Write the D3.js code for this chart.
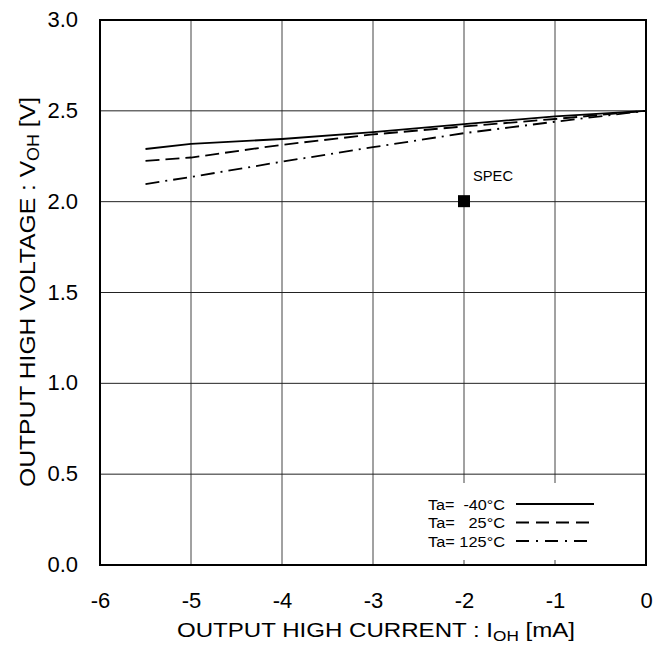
<!DOCTYPE html>
<html><head><meta charset="utf-8">
<script src="https://cdn.jsdelivr.net/npm/d3@7"></script>
<style>body{margin:0;background:#fff}</style>
</head><body>
<svg id="c" width="671" height="646"></svg>
<script>
const currents = [-5.5, -5, -4, -3, -2, -1, 0];
const vM40 = [2.29, 2.318, 2.345, 2.383, 2.427, 2.47, 2.50];
const v25 = [2.225, 2.243, 2.313, 2.370, 2.414, 2.455, 2.50];
const v125 = [2.097, 2.136, 2.22, 2.30, 2.377, 2.44, 2.50];
const seriesLabels = ["Ta=  -40°C", "Ta=   25°C", "Ta= 125°C"];
const specPoint = {x: -2, y: 2.0, label: "SPEC"};
const xTicks = [-6, -5, -4, -3, -2, -1, 0];
const yTicks = [0, 0.5, 1.0, 1.5, 2.0, 2.5, 3.0];

const svg = d3.select("#c");
const font = "Liberation Sans, Arial, sans-serif";
const L = 100, R = 646, T = 20, B = 565;
const x = d3.scaleLinear().domain([-6, 0]).range([L, R]);
const y = d3.scaleLinear().domain([0, 3]).range([B, T]);

// grid
svg.append("g").selectAll("line").data(xTicks).join("line")
  .attr("x1", d => x(d)).attr("x2", d => x(d)).attr("y1", T).attr("y2", B)
  .attr("stroke", "#444").attr("stroke-width", 1);
svg.append("g").selectAll("line").data(yTicks).join("line")
  .attr("y1", d => y(d)).attr("y2", d => y(d)).attr("x1", L).attr("x2", R)
  .attr("stroke", "#222").attr("stroke-width", 1);

// legend background
svg.append("rect").attr("x", 420).attr("y", 483).attr("width", R - 420).attr("height", 77).attr("fill", "#fff");

// frame
svg.append("rect").attr("x", L).attr("y", T).attr("width", R - L).attr("height", B - T)
  .attr("fill", "none").attr("stroke", "#000").attr("stroke-width", 2);

// axes labels via d3 axes
const xAxis = d3.axisBottom(x).tickValues(xTicks).tickFormat(d => String(d)).tickSize(0).tickPadding(27);
const gx = svg.append("g").attr("transform", `translate(0,${B})`).call(xAxis);
gx.select(".domain").remove();
gx.selectAll("text").attr("font-family", font).attr("font-size", 22).attr("fill", "#000");

const yAxis = d3.axisLeft(y).tickValues(yTicks).tickFormat(d => d.toFixed(1)).tickSize(0).tickPadding(22);
const gy = svg.append("g").attr("transform", `translate(${L},0)`).call(yAxis);
gy.select(".domain").remove();
gy.selectAll("text").attr("font-family", font).attr("font-size", 22).attr("fill", "#000").attr("dy", "0.3em");

// series
const styles = [null, "14,6", "14,6,2,6"];
const series = [vM40, v25, v125];
const line = d3.line().x(d => x(d[0])).y(d => y(d[1]));
series.forEach((vals, i) => {
  svg.append("path").datum(currents.map((c, j) => [c, vals[j]]))
    .attr("d", line).attr("fill", "none").attr("stroke", "#000").attr("stroke-width", 1.8)
    .attr("stroke-dasharray", styles[i]);
});

// spec
svg.append("rect").attr("x", x(specPoint.x) - 6).attr("y", y(specPoint.y) - 6.5)
  .attr("width", 12).attr("height", 12).attr("fill", "#000");
svg.append("text").attr("x", x(specPoint.x) + 9).attr("y", y(specPoint.y) - 21)
  .attr("font-family", font).attr("font-size", 15).attr("textLength", 40).attr("lengthAdjust", "spacingAndGlyphs")
  .text(specPoint.label);

// legend
const legStyles = [null, "13,7", "13,7,2,7"];
seriesLabels.forEach((lab, i) => {
  const yy = 504 + i * 18.5;
  svg.append("text").attr("x", 428).attr("y", yy + 5.5).attr("font-family", font)
    .attr("font-size", 15.5).attr("textLength", 77).attr("lengthAdjust", "spacingAndGlyphs")
    .attr("xml:space", "preserve").style("white-space", "pre").text(lab);
  svg.append("line").attr("x1", 516).attr("x2", 594).attr("y1", yy).attr("y2", yy)
    .attr("stroke", "#000").attr("stroke-width", 1.8).attr("stroke-dasharray", legStyles[i]);
});

// axis titles
const xt = svg.append("text").attr("x", 177).attr("y", 637)
  .attr("font-family", font).attr("font-size", 21);
xt.append("tspan").text("OUTPUT HIGH CURRENT : I");
xt.append("tspan").attr("font-size", 15).attr("dy", 3.5).text("OH");
xt.append("tspan").attr("dy", -3.5).text(" [mA]");
xt.attr("textLength", 398).attr("lengthAdjust", "spacingAndGlyphs");

const yt = svg.append("text").attr("transform", `translate(35,487) rotate(-90)`)
  .attr("font-family", font).attr("font-size", 22);
yt.append("tspan").text("OUTPUT HIGH VOLTAGE : V");
yt.append("tspan").attr("font-size", 16).attr("dy", 4).text("OH");
yt.append("tspan").attr("dy", -4).text(" [V]");
yt.attr("textLength", 390).attr("lengthAdjust", "spacingAndGlyphs");
</script>
</body></html>
